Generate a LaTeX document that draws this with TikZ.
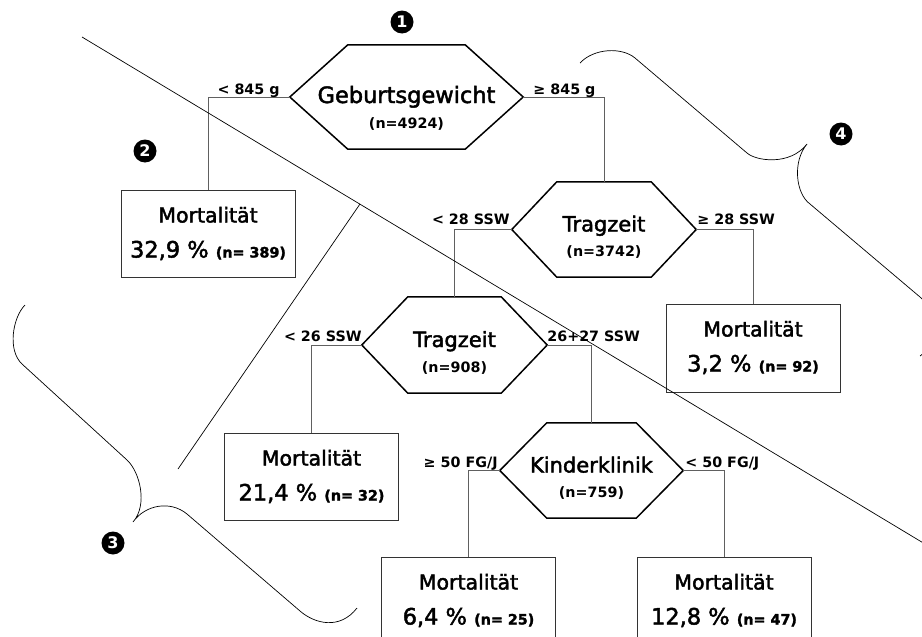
\documentclass[tikz,border=0pt]{standalone}
\usepackage{fontspec}
\setmainfont{DejaVu Sans}
\newfontfamily\heavysans{DejaVu Sans}[FakeBold=2]
\usetikzlibrary{calc}

\definecolor{linkgray}{HTML}{606060}
\definecolor{boxgray}{HTML}{333333}

% fonts used in the tree
\newcommand\titlebigfont{\heavysans\fontsize{22.5}{26}\selectfont}
\newcommand\titlemidfont{\heavysans\fontsize{21}{25}\selectfont}
\newcommand\smallboldfont{\bfseries\fontsize{14.3}{16}\selectfont}
\newcommand\headfont{\heavysans\fontsize{20.5}{24}\selectfont}
\newcommand\valuefont{\heavysans\fontsize{22.5}{26}\selectfont}

% hexagonal outline around an invisible rectangular node
\newcommand\hexoutline[2]{%
  \draw[hexline] (#1.west) -- ([xshift=#2]#1.north west) -- ([xshift=-#2]#1.north east)
    -- (#1.east) -- ([xshift=-#2]#1.south east) -- ([xshift=#2]#1.south west) -- cycle;}

\tikzset{
  hexbox/.style={rectangle, draw=none, inner sep=0pt},
  hexline/.style={draw=black, line width=1.5pt, line join=miter},
  resultbox/.style={rectangle, draw=boxgray, line width=1pt, minimum width=174pt,
    minimum height=87pt, inner sep=0pt},
  branch/.style={draw=linkgray, line width=1pt},
  guide/.style={draw=black, line width=0.7pt},
  bracket/.style={draw=black, line width=0.7pt},
  marker/.style={circle, fill=black, text=white, inner sep=0pt, minimum size=23pt,
    font=\bfseries\fontsize{16}{16}\selectfont},
  titlebig/.style={anchor=base, inner sep=0pt, font=\titlebigfont},
  titlemid/.style={anchor=base, inner sep=0pt, font=\titlemidfont},
  subtext/.style={anchor=base, inner sep=0pt, font=\smallboldfont},
  boxhead/.style={anchor=base, inner sep=0pt, font=\headfont},
  boxvalue/.style={anchor=base, inner sep=0pt, font=\valuefont},
  branchlabel/.style={inner sep=0pt, font=\smallboldfont},
}

\begin{document}
\begin{tikzpicture}[x=1pt, y=-1pt]
\useasboundingbox (0,0) rectangle (922,637);
\fill[white] (0,0) rectangle (922,637);
\clip (0,0) rectangle (922,637);

% decision nodes
\node[hexbox, minimum width=233pt, minimum height=104pt] (h1) at (406.5,97) {};
\node[hexbox, minimum width=184pt, minimum height=95pt] (h2) at (604,229.5) {};
\node[hexbox, minimum width=185pt, minimum height=96pt] (h3) at (454.5,345) {};
\node[hexbox, minimum width=183pt, minimum height=95pt] (h4) at (591.5,470.5) {};
\hexoutline{h1}{58pt}
\hexoutline{h2}{45pt}
\hexoutline{h3}{46pt}
\hexoutline{h4}{47pt}

\node[titlebig] (t1) at ($(h1.center)+(0,6)$) {Geburtsgewicht};
\node[subtext]  (s1) at ($(h1.center)+(0,31)$) {(n=4924)};
\node[titlemid] (t2) at ($(h2.center)+(0,2)$) {Tragzeit};
\node[subtext]  (s2) at ($(h2.center)+(0,27)$) {(n=3742)};
\node[titlemid] (t3) at ($(h3.center)+(0,2)$) {Tragzeit};
\node[subtext]  (s3) at ($(h3.center)+(0,27)$) {(n=908)};
\node[titlemid] (t4) at ($(h4.center)+(0,2)$) {Kinderklinik};
\node[subtext]  (s4) at ($(h4.center)+(0,27)$) {(n=759)};

% result boxes
\node[resultbox] (b1) at (208,233.5) {};
\node[resultbox, minimum height=88pt] (b2) at (753,348) {};
\node[resultbox] (b3) at (311.5,476.5) {};
\node[resultbox] (b4) at (468.5,600.5) {};
\node[resultbox] (b5) at (724,600.5) {};

\foreach \b/\v/\n in {b1/{32,9}/{389}, b2/{3,2}/{92}, b3/{21,4}/{32}, b4/{6,4}/{25}, b5/{12,8}/{47}} {
  \node[boxhead] (\b-head) at ($(\b.north)+(0,33)$) {Mortalität};
  \node[boxvalue] (\b-value) at ($(\b.north)+(0,68)$) {\v\ \% {\smallboldfont (n= \n)}};
}

% connectors
\draw[branch] (h1.west) -| (b1.north);
\draw[branch] (h1.east) -| (h2.north);
\draw[branch] (h2.west) -| (h3.north);
\draw[branch] (h2.east) -| (b2.north);
\draw[branch] (h3.west) -| (b3.north);
\draw[branch] (h3.east) -| (h4.north);
\draw[branch] (h4.west) -| (b4.north);
\draw[branch] (h4.east) -| (b5.north);

% branch conditions
\node[branchlabel, anchor=base east] (c1) at ($(h1.west)+(-10,-3)$) {< 845 g};
\node[branchlabel, anchor=base west] (c2) at ($(h1.east)+(10,-3)$) {≥ 845 g};
\node[branchlabel, anchor=base east] (c3) at ($(h2.west)+(-2,-5)$) {< 28 SSW};
\node[branchlabel, anchor=base west] (c4) at ($(h2.east)+(1,-5)$) {≥ 28 SSW};
\node[branchlabel, anchor=base east] (c5) at ($(h3.west)+(0,-4)$) {< 26 SSW};
\node[branchlabel, anchor=base west] (c6) at ($(h3.east)+(0,-4)$) {26+27 SSW};
\node[branchlabel, anchor=base east] (c7) at ($(h4.west)+(-2,-3)$) {≥ 50 FG/J};
\node[branchlabel, anchor=base west] (c8) at ($(h4.east)+(2,-3)$) {< 50 FG/J};

% dividing lines
\coordinate (ga) at (82,37);
\coordinate (gb) at (940,553);
\coordinate (gc) at (360,204);
\coordinate (gd) at (178,469);
\draw[guide] (ga) -- (gb);
\draw[guide] (gc) -- (gd);

% curly brackets
\draw[bracket] (580,63) .. controls (594,48) and (622,47) .. (635,58)
  -- (747,153) .. controls (756,161) and (790,166) .. (807,144)
  .. controls (792,162) and (796,194) .. (810,204)
  -- (920,297) .. controls (939,313) and (945,338) .. (920,356);
\draw[bracket] (25,305) .. controls (13,317) and (7,350) .. (22,364)
  -- (127,460) .. controls (140,472) and (148,505) .. (133,522)
  .. controls (145,505) and (170,500) .. (187,514)
  -- (300,611) .. controls (315,624) and (340,630) .. (357,608);

% numbered markers
\node[marker] (m1) at (402,22) {1};
\node[marker] (m2) at (145,151) {2};
\node[marker] (m3) at (113,543) {3};
\node[marker] (m4) at (841,134) {4};
\end{tikzpicture}
\end{document}
